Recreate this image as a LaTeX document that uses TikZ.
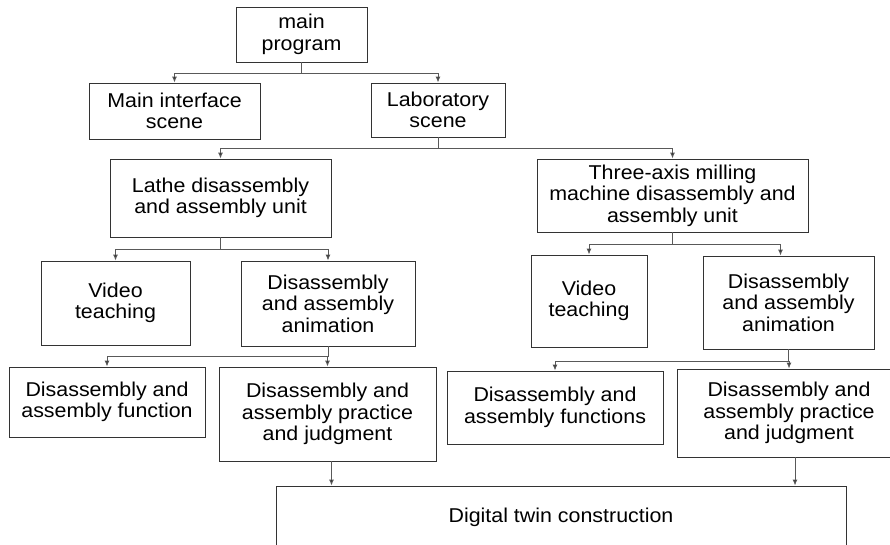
\documentclass[tikz,border=0pt]{standalone}
\usepackage{fontspec}
\setmainfont{Liberation Sans}[FakeStretch=1.07]
\usetikzlibrary{arrows.meta}

\begin{document}
\begin{tikzpicture}[x=1pt,y=-1pt,
    box/.style={draw=black!80,line width=0.95pt,align=center,inner sep=0pt,
      font=\fontsize{20}{21.5}\selectfont},
    link/.style={draw=black!65,line width=0.95pt},
    arr/.style={link,-{Latex[length=6pt,width=5pt,fill=black!85]}}]
  \useasboundingbox (0,0) rectangle (890,544);
  \fill[white] (0,0) rectangle (890,544);
  \clip (0,0) rectangle (890,544);

  % top levels
  \node[box,minimum width=131pt,minimum height=55pt] (main) at (301.5,34.5) {main\\program};
  \node[box,minimum width=171pt,minimum height=56pt] (iface) at (174.5,111) {Main interface\\scene};
  \node[box,minimum width=134pt,minimum height=54pt] (lab) at (438,110) {Laboratory\\scene};
  \node[box,minimum width=221pt,minimum height=78pt] (lathe) at (220.5,198) {Lathe disassembly\\and assembly unit};
  \node[box,minimum width=271pt,minimum height=73pt] (mill) at (672.5,195.5) {Three-axis milling\\machine disassembly and\\assembly unit};

  % lathe branch
  \node[box,minimum width=149pt,minimum height=84pt] (videoL) at (115.5,303) {Video\\teaching};
  \node[box,minimum width=174pt,minimum height=85pt] (animL) at (328,303.5) {Disassembly\\and assembly\\animation};
  \node[box,minimum width=196pt,minimum height=70pt] (funcL) at (107,402) {Disassembly and\\assembly function};
  \node[box,minimum width=217pt,minimum height=94pt] (practL) at (327.5,414) {Disassembly and\\assembly practice\\and judgment};

  % milling branch
  \node[box,minimum width=116pt,minimum height=92pt] (videoR) at (589,301) {Video\\teaching};
  \node[box,minimum width=171pt,minimum height=93pt] (animR) at (788.5,302.5) {Disassembly\\and assembly\\animation};
  \node[box,minimum width=216pt,minimum height=73pt] (funcR) at (555,407.5) {Disassembly and\\assembly functions};
  \node[box,minimum width=224pt,minimum height=88pt] (practR) at (789,413) {Disassembly and\\assembly practice\\and judgment};

  \node[box,minimum width=570pt,minimum height=62pt] (twin) at (561,517) {Digital twin construction};

  \draw[link] (main.south) -- ++(0,11) coordinate (busA);
  \draw[arr] (busA) -| (iface.north);
  \draw[arr] (busA) -| (lab.north);

  \draw[link] (lab.south) -- ++(0,11) coordinate (busB);
  \draw[arr] (busB) -| (lathe.north);
  \draw[arr] (busB) -| (mill.north);

  \draw[link] (lathe.south) -- ++(0,12) coordinate (busC);
  \draw[arr] (busC) -| (videoL.north);
  \draw[arr] (busC) -| (animL.north);

  \draw[link] (mill.south) -- ++(0,12) coordinate (busD);
  \draw[arr] (busD) -| (videoR.north);
  \draw[arr] (busD) -| ([xshift=-8pt]animR.north);

  \draw[link] (animL.south) -- ++(0,10) coordinate (busE);
  \draw[arr] (busE) -| (funcL.north);
  \draw[arr] (busE) -| (practL.north);

  \draw[link] (animR.south) -- ++(0,12) coordinate (busF);
  \draw[arr] (busF) -| (funcR.north);
  \draw[arr] (busF) -| (practR.north);

  \path (practL.south) ++(4,0) coordinate (outL);
  \path (practR.south) ++(6,0) coordinate (outR);
  \draw[arr] (outL) -- (outL |- twin.north);
  \draw[arr] (outR) -- (outR |- twin.north);
\end{tikzpicture}
\end{document}
